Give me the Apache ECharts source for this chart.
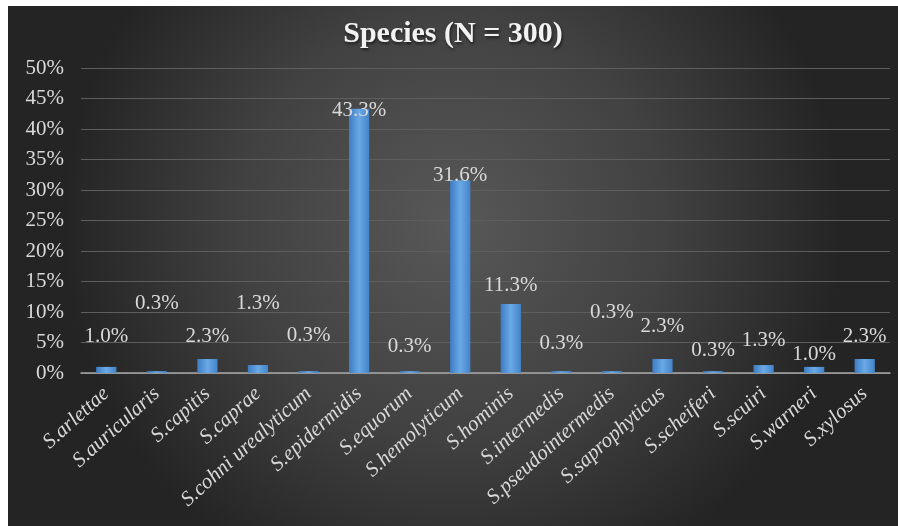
<!DOCTYPE html>
<html>
<head>
<meta charset="utf-8">
<style>
  html, body { margin: 0; padding: 0; background: #ffffff; width: 898px; height: 526px; overflow: hidden; }
  #chart { position: absolute; left: 8px; top: 6px; width: 890px; height: 520px; }
</style>
<script src="https://cdn.jsdelivr.net/npm/echarts@6/dist/echarts.min.js"></script>
</head>
<body>
<div id="chart"></div>
<script>
// Species distribution of isolates (percent of N = 300)
const species = [
  'S.arlettae', 'S.auricularis', 'S.capitis', 'S.caprae', 'S.cohni urealyticum',
  'S.epidermidis', 'S.equorum', 'S.hemolyticum', 'S.hominis', 'S.intermedis',
  'S.pseudointermedis', 'S.saprophyticus', 'S.scheiferi', 'S.scuiri', 'S.warneri', 'S.xylosus'
];
const percent = [1.0, 0.3, 2.3, 1.3, 0.3, 43.3, 0.3, 31.6, 11.3, 0.3, 0.3, 2.3, 0.3, 1.3, 1.0, 2.3];
const yTicks = [0, 5, 10, 15, 20, 25, 30, 35, 40, 45, 50];

// How far (px) each value label's centre sits above its bar top
const labelLift = [30, 68, 22, 62, 36, -2, 25, 5, 19, 28, 59, 32, 21, 25, 12, 22];

const serif = '"Liberation Serif", "DejaVu Serif", serif';
const textColor = '#d9d9d9';

const chart = echarts.init(document.getElementById('chart'), null, { renderer: 'canvas' });

const barFill = new echarts.graphic.LinearGradient(0, 0, 1, 0, [
  { offset: 0, color: '#3d7cc2' },
  { offset: 0.5, color: '#6aa9e6' },
  { offset: 1, color: '#4384c9' }
]);

chart.setOption({
  backgroundColor: new echarts.graphic.RadialGradient(0.5, 0.42, 0.75, [
    { offset: 0, color: '#585858' },
    { offset: 0.55, color: '#414141' },
    { offset: 1, color: '#242424' }
  ]),
  title: {
    text: 'Species (N = 300)',
    left: 'center',
    top: 8,
    textStyle: {
      fontFamily: serif,
      fontWeight: 'bold',
      fontSize: 30,
      color: '#f2f2f2',
      textShadowColor: 'rgba(0,0,0,0.6)',
      textShadowBlur: 3,
      textShadowOffsetX: 1,
      textShadowOffsetY: 2
    }
  },
  grid: { left: 73, right: 8, top: 62, bottom: 153, containLabel: false },
  xAxis: {
    type: 'category',
    data: species,
    axisTick: { show: false },
    axisLine: { lineStyle: { color: '#a8a8a8', width: 1.5 } },
    axisLabel: {
      rotate: 42,
      interval: 0,
      margin: 18,
      fontFamily: serif,
      fontStyle: 'italic',
      fontSize: 21,
      color: textColor
    }
  },
  yAxis: {
    type: 'value',
    min: yTicks[0],
    max: yTicks[yTicks.length - 1],
    interval: 5,
    axisLine: { show: false },
    axisTick: { show: false },
    splitLine: { lineStyle: { color: '#5e5e5e', width: 1 } },
    axisLabel: {
      margin: 17,
      fontFamily: serif,
      fontSize: 21,
      color: textColor,
      formatter: v => v + '%'
    }
  },
  series: [{
    type: 'bar',
    barWidth: '40%',
    itemStyle: { color: barFill },
    data: percent.map((v, i) => ({
      value: v,
      label: {
        show: true,
        position: 'top',
        distance: 0,
        verticalAlign: 'middle',
        offset: [0, -labelLift[i]],
        fontFamily: serif,
        fontSize: 21,
        color: textColor,
        formatter: p => p.value.toFixed(1) + '%'
      }
    }))
  }]
});
</script>
</body>
</html>
